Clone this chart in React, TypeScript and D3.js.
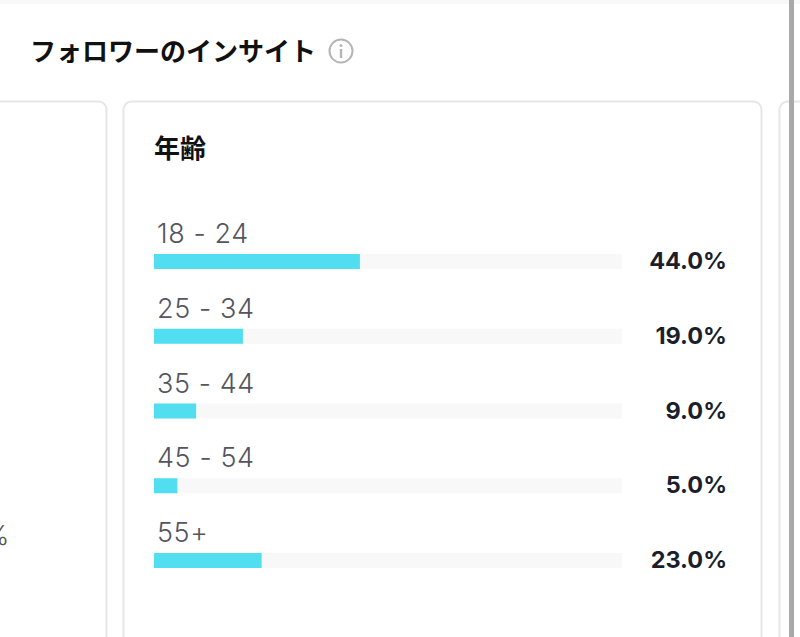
import React from "react";
import * as d3 from "d3";

const title = "フォロワーのインサイト";
const cardTitle = "年齢";
const categories = ["18 - 24", "25 - 34", "35 - 44", "45 - 54", "55+"];
const values = [44, 19, 9, 5, 23];
const valueLabels = ["44.0%", "19.0%", "9.0%", "5.0%", "23.0%"];

const JP = "'Noto Sans CJK JP', sans-serif";
const LATIN = "Inter, 'Noto Sans', sans-serif";

export default function App() {
  const x = d3.scaleLinear().domain([0, 100]).range([154, 622]);
  const y = d3.scalePoint<string>().domain(categories).range([254, 553]);
  const barH = 15;
  return (
    <svg width={800} height={637} style={{ position: "fixed", left: 0, top: 0, background: "#fff" }}>
      <rect x={0} y={0} width={800} height={4} fill="#f8f8f8" />
      <text x={30} y={61} fontFamily={JP} fontSize={26} fontWeight={700} fill="#111">{title}</text>
      <circle cx={341} cy={51} r={11.5} fill="none" stroke="#b5b5b5" strokeWidth={2} />
      <circle cx={341} cy={45.5} r={1.5} fill="#b5b5b5" />
      <rect x={339.8} y={49} width={2.4} height={9} fill="#b5b5b5" />

      <rect x={-20} y={101.5} width={126.5} height={560} rx={8} fill="#fff" stroke="#e6e6e6" strokeWidth={2} />
      <rect x={123.5} y={101.5} width={638} height={560} rx={8} fill="#fff" stroke="#e6e6e6" strokeWidth={2} />
      <rect x={779.5} y={101.5} width={60} height={560} rx={8} fill="#fff" stroke="#e6e6e6" strokeWidth={2} />
      <rect x={789} y={0} width={5} height={637} fill="#a9a9a9" />

      <text x={-16} y={545} fontFamily={LATIN} fontSize={27} fontWeight={300} fill="#555">%</text>

      <text x={154} y={158} fontFamily={JP} fontSize={26} fontWeight={700} fill="#111">{cardTitle}</text>

      {categories.map((c, i) => {
        const top = y(c)!;
        return (
          <g key={c}>
            <rect x={x(0)} y={top} width={x(100) - x(0)} height={barH} fill="#f8f8f8" />
            <rect x={x(0)} y={top} width={x(values[i]) - x(0)} height={barH} fill="#50def0" />
            <text x={157} y={top - 11} fontFamily={LATIN} fontSize={27} fontWeight={350} letterSpacing={0.6} fill="#55555f">{c}</text>
            <text x={727} y={top + 15} textAnchor="end" fontFamily={LATIN} fontSize={23.5} fontWeight={700} fill="#1c1f2b">{valueLabels[i]}</text>
          </g>
        );
      })}
    </svg>
  );
}
